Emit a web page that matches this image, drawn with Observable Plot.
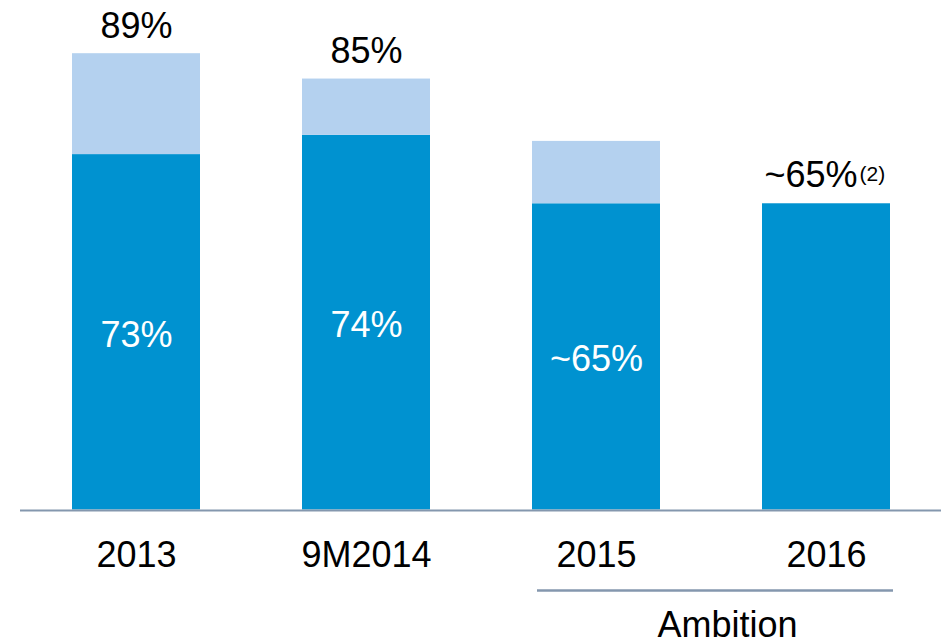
<!DOCTYPE html>
<html>
<head>
<meta charset="utf-8">
<script src="https://cdn.jsdelivr.net/npm/d3@7"></script>
<script src="https://cdn.jsdelivr.net/npm/@observablehq/plot@0.6"></script>
<style>
  html, body { margin: 0; padding: 0; background: #fff; }
  #chart { width: 946px; height: 640px; overflow: hidden; }
</style>
</head>
<body>
<div id="chart"></div>
<script>
// Categories and values (bar heights, in %)
const categories = ["2013", "9M2014", "2015", "2016"];
const coreValues = [70.1, 73.9, 60.4, 60.4];
const totalValues = [90.0, 85.0, 72.7, null];
const coreLabels = ["73%", "74%", "~65%", ""];
const totalLabels = ["89%", "85%", "", "~65%"];
const noteLabels = ["", "", "", "(2)"];
const groupLabel = "Ambition";
const groupFrom = "2015";
const groupTo = "2016";

const data = categories.map((c, i) => ({
  cat: c,
  core: coreValues[i],
  total: totalValues[i],
  top: totalValues[i] ?? coreValues[i],
  coreLabel: coreLabels[i],
  totalLabel: totalLabels[i],
  note: noteLabels[i]
}));

const dark = "#0092d0";
const light = "#b4d1ef";
const lineColor = "#8497ae";
const font = "'Liberation Sans', Arial, sans-serif";

const chart = Plot.plot({
  width: 946,
  height: 640,
  marginLeft: 20,
  marginRight: 5,
  marginTop: 2.5,
  marginBottom: 130.5,
  style: { fontFamily: font, background: "white", color: "black" },
  x: { domain: categories, paddingInner: 0.445, paddingOuter: 0.2246, axis: null },
  y: { domain: [0, 100], axis: null },
  marks: [
    Plot.barY(data, { x: "cat", y: "core", fill: dark }),
    Plot.barY(data.filter(d => d.total != null), { x: "cat", y1: "core", y2: "total", fill: light }),
    Plot.ruleY([0], { stroke: lineColor, strokeWidth: 2, dy: 0.5 }),
    // inner labels
    Plot.text(data.filter(d => d.coreLabel), {
      x: "cat", y: d => d.core / 2, text: "coreLabel",
      fill: "white", fontSize: 36, lineAnchor: "middle", dy: 3
    }),
    // top labels
    Plot.text(data.filter(d => d.totalLabel && !d.note), {
      x: "cat", y: "top", text: "totalLabel",
      fill: "black", fontSize: 36, lineAnchor: "bottom", dy: -16
    }),
    Plot.text(data.filter(d => d.note), {
      x: "cat", y: "top", text: "totalLabel",
      fill: "black", fontSize: 36, lineAnchor: "bottom", textAnchor: "end", dx: 31, dy: -16.5
    }),
    Plot.text(data.filter(d => d.note), {
      x: "cat", y: "top", text: "note",
      fill: "black", fontSize: 21, lineAnchor: "bottom", textAnchor: "start", dx: 33, dy: -23
    }),
    // category labels
    Plot.text(data, {
      x: "cat", y: 0, text: "cat",
      fill: "black", fontSize: 36, lineAnchor: "bottom", dy: 56.5
    }),
    // ambition group
    Plot.ruleY([0], { x1: () => groupFrom, x2: () => groupTo, stroke: lineColor, strokeWidth: 2.5, dy: 80.5, insetLeft: 5, insetRight: -3 }),
    Plot.text([groupLabel], {
      x: () => groupFrom, y: 0, text: d => d,
      fill: "black", fontSize: 36, lineAnchor: "bottom", textAnchor: "start", dx: 61, dy: 127
    })
  ]
});

document.getElementById("chart").appendChild(chart);
</script>
</body>
</html>
